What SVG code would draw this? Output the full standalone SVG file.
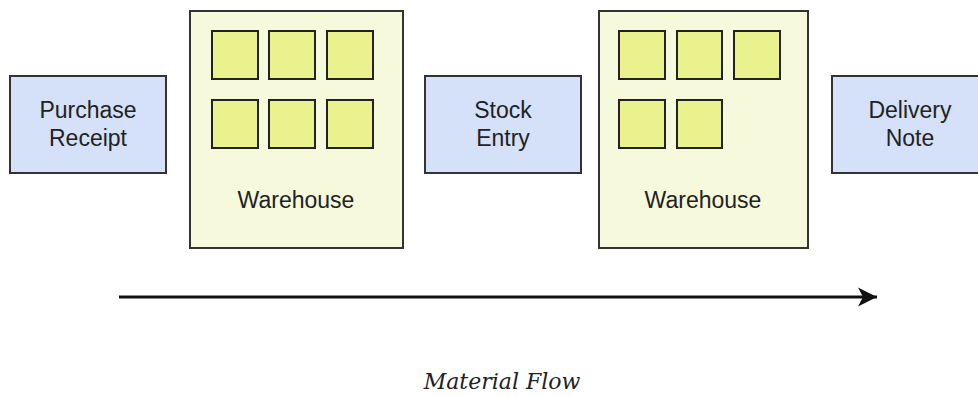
<svg xmlns="http://www.w3.org/2000/svg" width="978" height="396" viewBox="0 0 978 396">
<defs>
<style>
.doc{fill:#d4e1f8;stroke:#333;stroke-width:2}
.wh{fill:#f7f9dc;stroke:#333;stroke-width:2}
.bin{fill:#eaf28e;stroke:#222;stroke-width:2}
.lbl{font-family:"Liberation Sans",Arial,sans-serif;font-size:23px;fill:#222;text-anchor:middle}
.cap{font-family:"DejaVu Serif",serif;font-style:italic;font-size:22px;fill:#222;text-anchor:middle}
</style>
<marker id="ah" markerWidth="20" markerHeight="20" refX="19" refY="10" orient="auto" markerUnits="userSpaceOnUse" viewBox="0 0 20 20">
<path d="M0,0.5 L19,10 L0,19.5 L5,10 Z" fill="#111"/>
</marker>
</defs>
<rect width="978" height="396" fill="#fff"/>
<g id="purchase-receipt">
<rect class="doc" x="10" y="76" width="156" height="97"/>
<text class="lbl" x="88" y="118">Purchase</text>
<text class="lbl" x="88" y="146">Receipt</text>
</g>
<g id="warehouse-1">
<rect class="wh" x="190" y="11" width="213" height="237"/>
<rect class="bin" x="212" y="31" width="46" height="48"/>
<rect class="bin" x="269" y="31" width="46" height="48"/>
<rect class="bin" x="327" y="31" width="46" height="48"/>
<rect class="bin" x="212" y="100" width="46" height="48"/>
<rect class="bin" x="269" y="100" width="46" height="48"/>
<rect class="bin" x="327" y="100" width="46" height="48"/>
<text class="lbl" x="296" y="208">Warehouse</text>
</g>
<g id="stock-entry">
<rect class="doc" x="425" y="76" width="156" height="97"/>
<text class="lbl" x="503" y="118">Stock</text>
<text class="lbl" x="503" y="146">Entry</text>
</g>
<g id="warehouse-2">
<rect class="wh" x="599" y="11" width="209" height="237"/>
<rect class="bin" x="619" y="31" width="46" height="48"/>
<rect class="bin" x="677" y="31" width="45" height="48"/>
<rect class="bin" x="734" y="31" width="46" height="48"/>
<rect class="bin" x="619" y="100" width="46" height="48"/>
<rect class="bin" x="677" y="100" width="45" height="48"/>
<text class="lbl" x="703" y="208">Warehouse</text>
</g>
<g id="delivery-note">
<rect class="doc" x="832" y="76" width="156" height="97"/>
<text class="lbl" x="910" y="118">Delivery</text>
<text class="lbl" x="910" y="146">Note</text>
</g>
<g id="connectors">
<line x1="119" y1="297" x2="877" y2="297" stroke="#111" stroke-width="3" marker-end="url(#ah)"/>
</g>
<g id="caption">
<text class="cap" x="502" y="389">Material Flow</text>
</g>
</svg>
